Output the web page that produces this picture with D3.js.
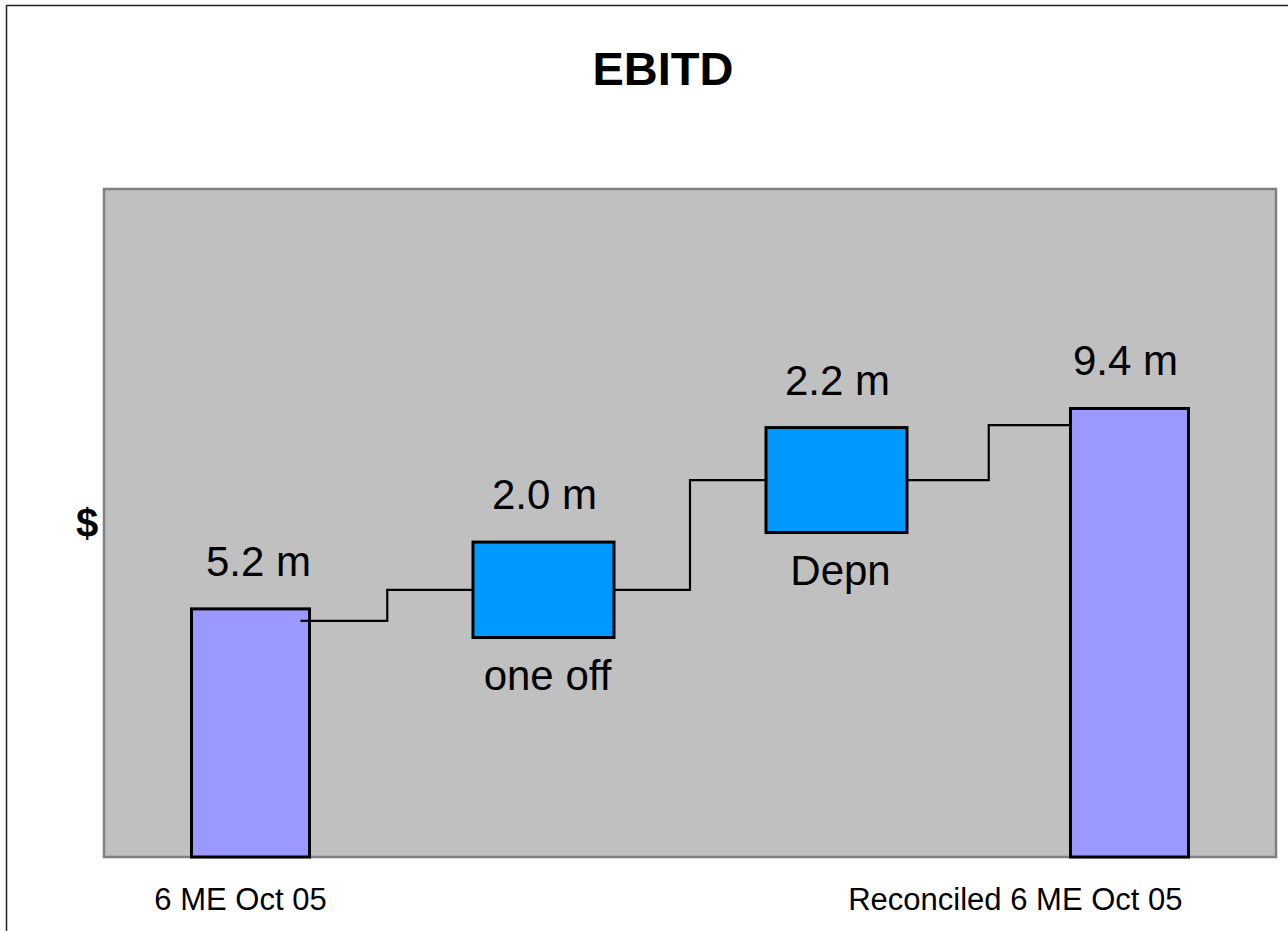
<!DOCTYPE html>
<html>
<head>
<meta charset="utf-8">
<script src="https://cdn.jsdelivr.net/npm/d3@7"></script>
<style>
  html, body { margin: 0; padding: 0; background: #ffffff; }
  svg { display: block; font-family: "Liberation Sans", Arial, Helvetica, sans-serif; }
</style>
</head>
<body>
<svg id="chart" width="1288" height="931"></svg>
<script>
// EBITD bridge: opening result, two adjustments, reconciled result ($ m)
const categories = ["6 ME Oct 05", "one off", "Depn", "Reconciled 6 ME Oct 05"];
const values = [5.2, 2.0, 2.2, 9.4];
// where each bar starts on the value axis (adjustments float)
const bases = [0, 4.6, 6.8, 0];
const kinds = ["total", "step", "step", "total"];
const valueLabels = ["5.2 m", "2.0 m", "2.2 m", "9.4 m"];
// connector levels between neighbouring bars: [leave level, arrive level]
const connectorLevels = [[4.95, 5.6], [5.6, 7.9], [7.9, 9.05]];
const yDomain = [0, 14];

const W = 1288, H = 931;
const plot = { left: 104, top: 189, right: 1276, bottom: 857 };

const svg = d3.select("#chart");

// outer frame (left and top edges)
svg.append("path")
  .attr("d", `M6.5,${H} V5.5 H${W}`)
  .attr("fill", "none")
  .attr("stroke", "#222")
  .attr("stroke-width", 1.5);

// title
svg.append("text")
  .attr("x", 663).attr("y", 85)
  .attr("text-anchor", "middle")
  .attr("font-size", 47).attr("font-weight", "bold")
  .text("EBITD");

// plot area
svg.append("rect")
  .attr("x", plot.left).attr("y", plot.top)
  .attr("width", plot.right - plot.left).attr("height", plot.bottom - plot.top)
  .attr("fill", "#C0C0C0")
  .attr("stroke", "#808080").attr("stroke-width", 2.5);

const x = d3.scaleBand().domain(categories).range([plot.left, plot.right]).padding(0);
const y = d3.scaleLinear().domain(yDomain).range([plot.bottom, plot.top]);

const widthFor = k => k === "total" ? 118 : 141;
const fillFor = k => k === "total" ? "#9999FF" : "#0099FF";
const cx = c => x(c) + x.bandwidth() / 2;
const leftOf = i => cx(categories[i]) - widthFor(kinds[i]) / 2;
const rightOf = i => cx(categories[i]) + widthFor(kinds[i]) / 2;

const rows = categories.map((c, i) => ({
  cat: c, value: values[i], base: bases[i], kind: kinds[i], label: valueLabels[i], i
}));

// connectors (step lines), drawn beneath the bars
const conn = svg.append("g")
  .attr("fill", "none").attr("stroke", "#000").attr("stroke-width", 2.2);
connectorLevels.forEach(([from, to], i) => {
  const x0 = rightOf(i) - (i === 0 ? 9 : 0);
  const x1 = leftOf(i + 1) + (i === connectorLevels.length - 1 ? 2 : 0);
  const xm = (rightOf(i) + leftOf(i + 1)) / 2 - (i === 0 ? 4 : 0);
  conn.append("path")
    .attr("d", d3.line()([[x0, y(from)], [xm, y(from)], [xm, y(to)], [x1, y(to)]]));
});

// bars
svg.append("g").selectAll("rect")
  .data(rows)
  .join("rect")
  .attr("x", d => cx(d.cat) - widthFor(d.kind) / 2)
  .attr("width", d => widthFor(d.kind))
  .attr("y", d => y(d.base + d.value))
  .attr("height", d => y(d.base) - y(d.base + d.value))
  .attr("fill", d => fillFor(d.kind))
  .attr("stroke", "#000").attr("stroke-width", 3);

// start of the first connector runs over its bar
const c0 = connectorLevels[0];
svg.append("path")
  .attr("d", d3.line()([[rightOf(0) - 9, y(c0[0])], [rightOf(0), y(c0[0])]]))
  .attr("stroke", "#000").attr("stroke-width", 2.2);

// value labels above bars
svg.append("g").selectAll("text")
  .data(rows)
  .join("text")
  .attr("x", d => cx(d.cat) + (d.i === 0 ? 8 : d.i === 3 ? -4 : 1))
  .attr("y", d => y(d.base + d.value) - 33)
  .attr("text-anchor", "middle")
  .attr("font-size", 42)
  .text(d => d.label);

// adjustment names below the floating bars
svg.append("g").selectAll("text")
  .data(rows.filter(d => d.kind === "step"))
  .join("text")
  .attr("x", d => cx(d.cat) + 4)
  .attr("y", d => y(d.base) + 52)
  .attr("text-anchor", "middle")
  .attr("font-size", 42)
  .text(d => d.cat);

// category axis for the two result bars
const xAxis = d3.axisBottom(x)
  .tickSize(0).tickPadding(31)
  .tickFormat((d, i) => kinds[i] === "total" ? d : "");
const gx = svg.append("g")
  .attr("transform", `translate(0,${plot.bottom})`)
  .call(xAxis);
gx.select(".domain").remove();
gx.selectAll("text")
  .attr("font-size", 31)
  .attr("font-family", "'Liberation Sans', Arial, sans-serif")
  .attr("fill", "#000");
gx.selectAll(".tick").filter((d, i) => i === 0).select("text").attr("dx", -10);
gx.selectAll(".tick").filter((d, i) => i === categories.length - 1).select("text")
  .attr("text-anchor", "end")
  .attr("x", widthFor("total") / 2 - 6);

// value axis title
svg.append("text")
  .attr("x", 87).attr("y", 537)
  .attr("text-anchor", "middle")
  .attr("font-size", 40).attr("font-weight", "bold")
  .text("$");
</script>
</body>
</html>
